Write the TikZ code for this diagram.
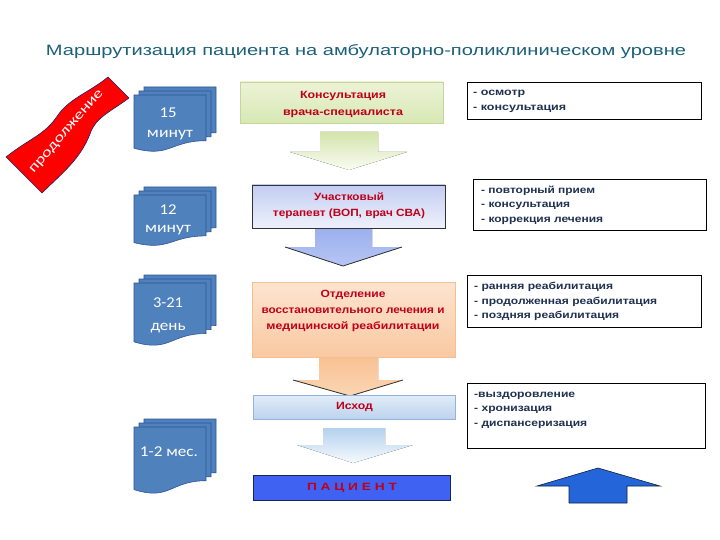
\documentclass[tikz,border=0pt]{standalone}
\usepackage{fontspec}
\setmainfont{Liberation Sans}
\newfontfamily\calib{Carlito}
\usetikzlibrary{calc}
\newcommand{\W}[2]{\resizebox{#1pt}{\height}{#2}}
\definecolor{ttl}{HTML}{1B6079}
\definecolor{redt}{HTML}{C00018}
\definecolor{navyt}{HTML}{1F3050}
\definecolor{docblue}{HTML}{4F81BD}
\definecolor{docedge}{HTML}{2F5597}
\definecolor{banedge}{HTML}{1F2060}
\newcommand\docshape[4]{%
  \begin{scope}[shift={(#1,#2)}]
  \filldraw[docsty] (0,0) -- (#3,0) -- (#3,{0.802*#4}) .. controls ({0.5*#3},{0.802*#4}) and ({0.5*#3},{1.107*#4}) .. (0,{0.934*#4}) -- cycle;
  \end{scope}}
\newcommand\docstack[3]{\docshape{#1+10}{#2-8}{72}{#3}\docshape{#1+5}{#2-4}{72}{#3}\docshape{#1}{#2}{72}{#3}}
\begin{document}
\begin{tikzpicture}[x=1pt,y=-1pt,
  docsty/.style={fill=docblue,draw=docedge,line width=0.6pt},
  doctext/.style={text=white,font=\calib\fontsize{15}{17}\selectfont,inner sep=0pt},
  redtxt/.style={text=redt,align=center,inner sep=0pt},
  rtxt/.style={text=navyt,align=left,anchor=west,inner sep=0pt,font=\fontsize{10}{14.5}\selectfont\bfseries},
  rbox/.style={draw=black,line width=0.8pt,fill=white,inner sep=0pt,anchor=north west},
  cbox/.style={inner sep=0pt,line width=0.8pt}]
\useasboundingbox (0,0) rectangle (720,540);
\fill[white] (0,0) rectangle (720,540);

% title
\node[text=ttl,inner sep=0pt,font=\fontsize{15}{17}\selectfont] (title) at (366,52) {\W{640}{Маршрутизация пациента на амбулаторно-поликлиническом уровне}};

% red banner
\filldraw[fill=red,draw=banedge,line width=0.6pt]
  (6,157) .. controls (30,138) and (45,135) .. (58,115) .. controls (70,98) and (90,92) .. (108,77)
  -- (129,98) .. controls (110,112) and (95,118) .. (90,134) .. controls (80,160) and (60,175) .. (42,193) -- cycle;
\node[text=white,inner sep=0pt,rotate=49,font=\calib\fontsize{14}{16}\selectfont] (ban) at (67,132) {\W{106}{продолжение}};

% document stacks
\docstack{134}{95}{57}
\node[doctext] (d1a) at (168,113) {\W{17}{15}};
\node[doctext] (d1b) at (170,135) {\W{46}{минут}};
\docstack{134}{195}{51}
\node[doctext] (d2a) at (168,210) {\W{17}{12}};
\node[doctext] (d2b) at (168,230) {\W{46}{минут}};
\docstack{134}{283}{63}
\node[doctext] (d3a) at (168,303) {\W{30}{3-21}};
\node[doctext] (d3b) at (168,328) {\W{35}{день}};
\docstack{134}{427}{67}
\node[doctext] (d4a) at (169,452) {\W{58}{1-2 мес.}};

% arrows (drawn first, under boxes)
\fill[top color={rgb,255:red,212;green,228;blue,170},bottom color={rgb,255:red,250;green,252;blue,244}]
  (320,132) -- (378,132) -- (378,152) -- (407,152) -- (349,170) -- (290,152) -- (320,152) -- cycle;
\fill[top color={rgb,255:red,156;green,176;blue,238},bottom color={rgb,255:red,182;green,197;blue,244}]
  (315,228) -- (372,228) -- (372,247) -- (402,247) -- (343,266) -- (285,247) -- (315,247) -- cycle;
\draw[line width=0.8pt,black!80] (285,247) -- (343,266) -- (402,247);
\fill[top color={rgb,255:red,249;green,193;blue,146},bottom color={rgb,255:red,251;green,214;blue,180}]
  (319,357) -- (378,357) -- (378,380) -- (403,380) -- (350,396) -- (293,380) -- (319,380) -- cycle;
\draw[line width=0.8pt,black!80] (293,380) -- (350,396) -- (403,380);
\fill[top color={rgb,255:red,180;green,209;blue,238},bottom color={rgb,255:red,246;green,250;blue,254}]
  (323,428) -- (385,428) -- (385,445) -- (413,445) -- (353,463) -- (297,445) -- (323,445) -- cycle;

% centre boxes
\node[cbox,draw={rgb,255:red,196;green,215;blue,155},top color={rgb,255:red,236;green,243;blue,214},bottom color={rgb,255:red,216;green,232;blue,180},minimum width=203pt,minimum height=41pt] (b1) at (341.5,102.5) {};
\node[redtxt,font=\fontsize{10.5}{17}\selectfont\bfseries] (b1t) at (343,104.5) {\W{86}{Консультация}\\\W{120}{врача-специалиста}};

\node[cbox,draw=black!80,top color={rgb,255:red,195;green,205;blue,242},bottom color={rgb,255:red,238;green,241;blue,251},minimum width=193pt,minimum height=43pt] (b2) at (348.5,206.5) {};
\node[redtxt,font=\fontsize{10.5}{16}\selectfont\bfseries] (b2t) at (349,206) {\W{70}{Участковый}\\\W{152}{терапевт (ВОП, врач СВА)}};

\node[cbox,draw={rgb,255:red,246;green,192;blue,142},top color={rgb,255:red,253;green,228;blue,208},bottom color={rgb,255:red,249;green,201;blue,162},minimum width=203pt,minimum height=75pt] (b3) at (353.5,319.5) {};
\node[redtxt,font=\fontsize{10.5}{16}\selectfont\bfseries] (b3t) at (353,311) {\W{65}{Отделение}\\\W{183}{восстановительного лечения и}\\\W{173}{медицинской реабилитации}};

\node[cbox,draw={rgb,255:red,149;green,179;blue,215},top color={rgb,255:red,225;green,236;blue,249},bottom color={rgb,255:red,188;green,211;blue,238},minimum width=202pt,minimum height=24pt] (b4) at (354,407) {};
\node[redtxt,font=\fontsize{10.5}{16}\selectfont\bfseries] (b4t) at (354.5,407) {\W{37}{Исход}};

\node[cbox,draw={rgb,255:red,26;green,37;blue,80},fill={rgb,255:red,63;green,98;blue,242},minimum width=197pt,minimum height=25pt] (b5) at (351.5,487.5) {};
\node[redtxt,font=\fontsize{10.5}{16}\selectfont\bfseries] (b5t) at (352,488) {\W{90}{П А Ц И Е Н Т}};

% right boxes
\node[rbox,minimum width=234pt,minimum height=37pt] (r1) at (467,82) {};
\node[rtxt] (r1t) at (473,101.5) {\W{52}{- осмотр}\\\W{93}{- консультация}};
\node[rbox,minimum width=233pt,minimum height=51pt] (r2) at (473,179) {};
\node[rtxt] (r2t) at (481,205) {\W{114}{- повторный прием}\\\W{89}{- консультация}\\\W{122}{- коррекция лечения}};
\node[rbox,minimum width=234pt,minimum height=52pt] (r3) at (467,275) {};
\node[rtxt] (r3t) at (474,301.5) {\W{139}{- ранняя реабилитация}\\\W{183}{- продолженная реабилитация}\\\W{145}{- поздняя реабилитация}};
\node[rbox,minimum width=238pt,minimum height=65pt] (r4) at (467,383) {};
\node[rtxt] (r4t) at (474,410) {\W{101}{-выздоровление}\\\W{78}{- хронизация}\\\W{113}{- диспансеризация}};

% up arrow
\filldraw[fill={rgb,255:red,37;green,101;blue,218},draw={rgb,255:red,15;green,31;blue,64},line width=0.6pt]
  (569,503) -- (569,486) -- (537,486) -- (598,468) -- (660,486) -- (627,486) -- (627,503) -- cycle;
\end{tikzpicture}
\end{document}
